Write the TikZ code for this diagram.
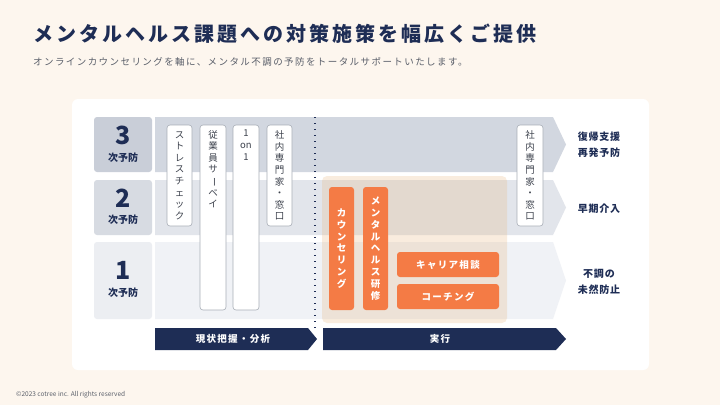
\documentclass[tikz,border=0pt]{standalone}
\usepackage{fontspec}
\usepackage{graphicx}
\setmainfont{Noto Sans CJK JP}
\definecolor{navy}{HTML}{1E2D55}
\definecolor{orangebox}{HTML}{F47B45}
\definecolor{orangearea}{HTML}{E8B67C}
\definecolor{cream}{HTML}{FDF6EE}
\definecolor{lab3}{HTML}{C9CED8}
\definecolor{band3}{HTML}{D2D7E0}
\definecolor{lab2}{HTML}{D7DBE2}
\definecolor{band2}{HTML}{E2E5EB}
\definecolor{lab1}{HTML}{ECEEF2}
\definecolor{band1}{HTML}{F0F2F6}
\definecolor{boxline}{HTML}{A9AEB7}
\definecolor{textgray}{HTML}{3C414C}
\definecolor{subgray}{HTML}{5A5F6A}
\newcommand{\vbar}{\rotatebox[origin=c]{-90}{ー}}
\tikzset{
  lvlbox/.style={rounded corners=3pt},
  wbox/.style={draw=boxline, fill=white, rounded corners=3pt, line width=0.6pt},
  obox/.style={fill=orangebox, rounded corners=3pt},
  vtext/.style={align=center, inner sep=0pt, text=textgray, font=\fontsize{9.5}{11.6}\selectfont},
  otext/.style={align=center, inner sep=0pt, text=white, font=\fontsize{9.5}{11.8}\selectfont\bfseries},
  numtext/.style={text=navy, font=\fontsize{25}{26}\selectfont\bfseries},
  lvltext/.style={text=navy, font=\fontsize{10}{11}\selectfont\bfseries},
  sidetext/.style={align=center, text=navy, font=\fontsize{10}{16}\selectfont\bfseries\addfontfeature{LetterSpace=8}},
  arrowtext/.style={text=white, font=\fontsize{9.5}{10}\selectfont\bfseries\addfontfeature{LetterSpace=14}}
}
\begin{document}
\begin{tikzpicture}[x=1pt, y=-1pt]
  \useasboundingbox[fill=cream] (0,0) rectangle (720,405);
  % panel
  \fill[white, rounded corners=6pt] (72,99) rectangle (649,370);

  % title and lead
  \node[anchor=west, inner sep=0pt, text=navy, font=\fontsize{20}{24}\selectfont\bfseries\addfontfeature{LetterSpace=15}] (title) at (33,34) {メンタルヘルス課題への対策施策を幅広くご提供};
  \node[anchor=west, inner sep=0pt, text=subgray, font=\fontsize{9.5}{11}\selectfont\addfontfeature{LetterSpace=15}] (lead) at (33,62) {オンラインカウンセリングを軸に、メンタル不調の予防をトータルサポートいたします。};

  % bands
  \fill[band3] (155,117) -- (553,117) -- (566,144.5) -- (553,172) -- (155,172) -- cycle;
  \fill[band2] (155,180) -- (553,180) -- (566,207.5) -- (553,235) -- (155,235) -- cycle;
  \fill[band1] (155,242) -- (553,242) -- (566,280.5) -- (553,319) -- (155,319) -- cycle;

  % level labels
  \fill[lab3, lvlbox] (94,117) rectangle (152,172);
  \node[numtext] (n3) at (123,135) {3};
  \node[lvltext] (l3) at (123,158) {次予防};
  \fill[lab2, lvlbox] (94,180) rectangle (152,235);
  \node[numtext] (n2) at (123,198) {2};
  \node[lvltext] (l2) at (123,220) {次予防};
  \fill[lab1, lvlbox] (94,242) rectangle (152,319);
  \node[numtext] (n1) at (123,270) {1};
  \node[lvltext] (l1) at (123,293) {次予防};

  % assessment tools
  \draw[wbox] (167,125) rectangle (192,226);
  \node[vtext] (stress) at (179.5,175.5) {ス\\ト\\レ\\ス\\チ\\ェ\\ッ\\ク};
  \draw[wbox] (200,125) rectangle (226,310);
  \node[vtext, anchor=north] (survey) at (213,130) {従\\業\\員\\サ\\\vbar\\ベ\\イ};
  \draw[wbox] (233,125) rectangle (259,310);
  \node[vtext, anchor=north] (oneonone) at (246,130) {1\\on\\1};
  \draw[wbox] (267,125) rectangle (292,226);
  \node[vtext] (expertA) at (279.5,175.5) {社\\内\\専\\門\\家\\・\\窓\\口};

  % divider
  \coordinate (divtop) at (315,117);
  \coordinate (divbot) at (315,328);
  \draw[navy, line width=1.1pt, dash pattern=on 1pt off 5pt] (divtop) -- (divbot);

  % execution area
  \fill[orangearea, fill opacity=0.25, rounded corners=5pt] (322,176) rectangle (507,323);
  \fill[obox] (329,187) rectangle (354,310);
  \node[otext] (counsel) at (341.5,248.5) {カ\\ウ\\ン\\セ\\リ\\ン\\グ};
  \fill[obox] (363,187) rectangle (388,310);
  \node[otext] (training) at (375.5,248.5) {メ\\ン\\タ\\ル\\ヘ\\ル\\ス\\研\\修};
  \fill[obox] (397,252) rectangle (499,277);
  \node[otext, font=\fontsize{9.5}{11}\selectfont\bfseries\addfontfeature{LetterSpace=14}] (career) at (448,264.5) {キャリア相談};
  \fill[obox] (397,284) rectangle (499,309);
  \node[otext, font=\fontsize{9.5}{11}\selectfont\bfseries\addfontfeature{LetterSpace=14}] (coaching) at (448,296.5) {コーチング};

  \draw[wbox] (517,125) rectangle (543,226);
  \node[vtext] (expertB) at (530,175.5) {社\\内\\専\\門\\家\\・\\窓\\口};

  % outcomes
  \node[sidetext] (out3) at (599,145) {復帰支援\\再発予防};
  \node[sidetext] (out2) at (599,209) {早期介入};
  \node[sidetext] (out1) at (599,281.5) {不調の\\未然防止};

  % phases
  \fill[navy] (155,328) -- (308,328) -- (317,339) -- (308,350) -- (155,350) -- cycle;
  \node[arrowtext] (phase1) at (233,339) {現状把握・分析};
  \fill[navy] (323,328) -- (556,328) -- (566,339) -- (556,350) -- (323,350) -- cycle;
  \node[arrowtext] (phase2) at (440,339) {実行};

  % footer
  \node[anchor=west, inner sep=0pt, text=subgray, font=\fontsize{6.5}{8}\selectfont] (copy) at (16,395) {©2023 cotree inc. All rights reserved};
\end{tikzpicture}
\end{document}
